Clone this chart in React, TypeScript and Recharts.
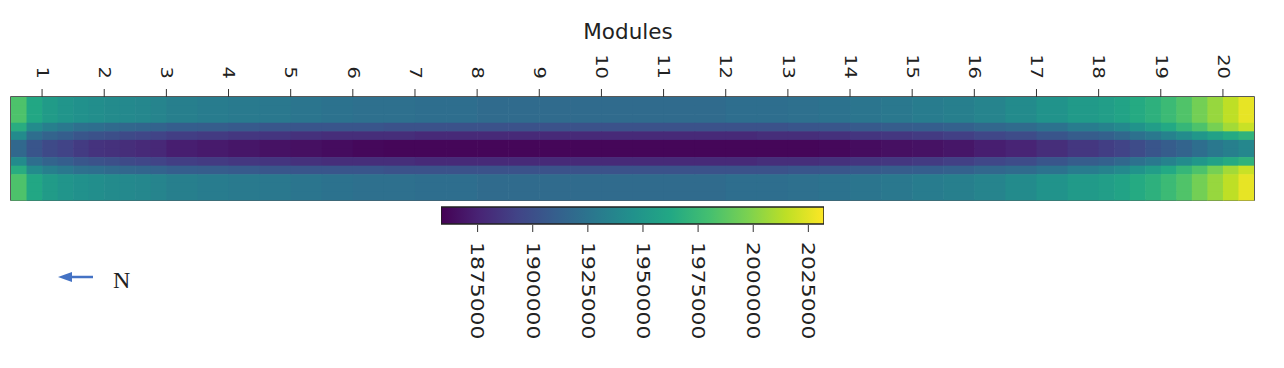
import React from 'react';
import { ScatterChart, Scatter, ComposedChart, Bar, XAxis, YAxis, ReferenceArea } from 'recharts';

// module ticks along the top
const MODULES = [1, 2, 3, 4, 5, 6, 7, 8, 9, 10, 11, 12, 13, 14, 15, 16, 17, 18, 19, 20];

// grid column edges: quarter modules at both ends, half modules in between
const COL_EDGES = [
  0.5, 0.75, 1, 1.25, 1.5, 1.75, 2, 2.25, 2.5, 2.75,
  3, 3.5, 4, 4.5, 5, 5.5, 6, 6.5, 7, 7.5, 8, 8.5, 9, 9.5, 10, 10.5, 11, 11.5, 12, 12.5,
  13, 13.5, 14, 14.5, 15, 15.5, 16, 16.5, 17, 17.5,
  18, 18.25, 18.5, 18.75, 19, 19.25, 19.5, 19.75, 20, 20.25, 20.5,
];

// values per row band, read left -> right (50 columns)
const OUTER = [
  1983000, 1962000, 1953000, 1948000, 1945000, 1943000, 1941000, 1940000, 1938000, 1936000,
  1933000, 1931000, 1929000, 1928000, 1926000, 1924000, 1922000, 1922000, 1921000, 1921000,
  1919000, 1919000, 1919000, 1919000, 1919000, 1919000, 1919000, 1919000, 1921000, 1921000,
  1922000, 1924000, 1926000, 1928000, 1931000, 1933000, 1936000, 1941000, 1947000, 1952000,
  1955000, 1959000, 1964000, 1969000, 1976000, 1984000, 1995000, 2005000, 2015000, 2026000,
];
const MID = [
  1966000, 1941000, 1933000, 1928000, 1922000, 1921000, 1918000, 1916000, 1915000, 1913000,
  1910000, 1909000, 1907000, 1905000, 1904000, 1904000, 1904000, 1902000, 1902000, 1902000,
  1902000, 1902000, 1902000, 1902000, 1902000, 1902000, 1902000, 1902000, 1902000, 1902000,
  1904000, 1905000, 1907000, 1909000, 1910000, 1912000, 1916000, 1919000, 1924000, 1931000,
  1935000, 1940000, 1947000, 1954000, 1963000, 1973000, 1983000, 1996000, 2008000, 2018000,
];
const INNER = [
  1941000, 1921000, 1914000, 1910000, 1905000, 1902000, 1900000, 1897000, 1895000, 1893000,
  1890000, 1888000, 1886000, 1885000, 1883000, 1881000, 1881000, 1881000, 1879000, 1879000,
  1879000, 1879000, 1879000, 1879000, 1879000, 1879000, 1879000, 1879000, 1879000, 1881000,
  1881000, 1883000, 1885000, 1886000, 1888000, 1891000, 1895000, 1898000, 1904000, 1909000,
  1912000, 1917000, 1923000, 1928000, 1935000, 1942000, 1950000, 1957000, 1964000, 1970000,
];
const CORE = [
  1917000, 1904000, 1897000, 1893000, 1888000, 1884000, 1883000, 1881000, 1879000, 1878000,
  1873000, 1871000, 1869000, 1867000, 1866000, 1864000, 1862000, 1861000, 1861000, 1861000,
  1861000, 1861000, 1861000, 1861000, 1861000, 1861000, 1861000, 1861000, 1861000, 1861000,
  1861000, 1862000, 1864000, 1866000, 1867000, 1869000, 1873000, 1876000, 1881000, 1886000,
  1890000, 1893000, 1898000, 1904000, 1909000, 1914000, 1921000, 1928000, 1933000, 1938000,
];

// top -> bottom
const ROWS = [OUTER, OUTER, OUTER, MID, INNER, CORE, CORE, INNER, MID, OUTER, OUTER, OUTER];

// colorbar
const CB_TICKS = [1875000, 1900000, 1925000, 1950000, 1975000, 2000000, 2025000];
const CB_MIN = 1858400;
const CB_MAX = 2032100;

const VIRIDIS = ['#440154', '#482475', '#414487', '#355f8d', '#2a788e', '#21918c', '#22a884', '#44bf70', '#7ad151', '#bddf26', '#fde725'];

const W = 1284;
const H = 368;
const PLOT = { left: 11, right: 1254, top: 97, bottom: 200 };
const PX_PER_MODULE = (PLOT.right - PLOT.left) / MODULES.length;
const CELL_H = (PLOT.bottom - PLOT.top) / ROWS.length;

const hex = (c: string) => [1, 3, 5].map(i => parseInt(c.slice(i, i + 2), 16));

const viridis = (v: number) => {
  const t = Math.min(1, Math.max(0, (v - CB_MIN) / (CB_MAX - CB_MIN))) * 10;
  const i = Math.min(9, Math.floor(t));
  const f = t - i;
  const a = hex(VIRIDIS[i]);
  const b = hex(VIRIDIS[i + 1]);
  const c = a.map((x, k) => Math.round(x + (b[k] - x) * f));
  return `rgb(${c[0]},${c[1]},${c[2]})`;
};

const cells = ROWS.flatMap((row, r) =>
  row.map((v, c) => ({
    x: (COL_EDGES[c] + COL_EDGES[c + 1]) / 2,
    span: COL_EDGES[c + 1] - COL_EDGES[c],
    y: r + 0.5,
    v,
  }))
);

const CellShape = (props: any) => {
  const { cx, cy, payload } = props;
  const w = payload.span * PX_PER_MODULE;
  return <rect x={cx - w / 2} y={cy - CELL_H / 2} width={w + 0.6} height={CELL_H + 0.6} fill={viridis(payload.v)} />;
};

const FONT = '"DejaVu Sans", sans-serif';

const ModuleTick = (props: any) => {
  const { x, y, payload } = props;
  return (
    <text
      transform={`translate(${x},${y - 8}) rotate(90) scale(1.3,1)`}
      textAnchor="end"
      dy="0.35em"
      fontFamily={FONT}
      fontSize={15}
      fill="#222"
    >
      {payload.value}
    </text>
  );
};

const ColorbarTick = (props: any) => {
  const { x, y, payload } = props;
  return (
    <text
      transform={`translate(${x},${y + 8}) rotate(90) scale(1.25,1)`}
      textAnchor="start"
      dy="0.35em"
      fontFamily={FONT}
      fontSize={17.5}
      fill="#222"
    >
      {payload.value}
    </text>
  );
};

const layer: React.CSSProperties = { position: 'absolute', left: 0, top: 0 };

const colorbarData = [{ name: 'colorbar', range: [CB_MIN, CB_MAX] }];

export default function App() {
  return (
    <div style={{ position: 'absolute', left: 0, top: 0, width: W, height: H, background: '#fff' }}>
      <div style={layer}>
        <ScatterChart
          width={W}
          height={H}
          margin={{ top: PLOT.top - 40, left: PLOT.left, right: W - PLOT.right, bottom: H - PLOT.bottom }}
        >
          <XAxis
            type="number"
            dataKey="x"
            orientation="top"
            domain={[0.5, 20.5]}
            ticks={MODULES}
            interval={0}
            height={40}
            tickSize={8}
            axisLine={false}
            tickLine={{ stroke: '#333' }}
            tick={<ModuleTick />}
            allowDataOverflow
          />
          <YAxis type="number" dataKey="y" domain={[0, ROWS.length]} reversed hide />
          <Scatter data={cells} shape={<CellShape />} isAnimationActive={false} />
          <ReferenceArea
            x1={0.5}
            x2={20.5}
            y1={0}
            y2={ROWS.length}
            fill="none"
            stroke="#222"
            strokeWidth={1.5}
            ifOverflow="visible"
          />
        </ScatterChart>
      </div>
      <div style={layer}>
        <ComposedChart
          width={W}
          height={H}
          layout="vertical"
          data={colorbarData}
          barCategoryGap={0}
          margin={{ top: 206, left: 441, right: W - 824, bottom: H - 225 - 130 }}
        >
          <defs>
            <linearGradient id="viridisBar" x1="0" y1="0" x2="1" y2="0">
              {VIRIDIS.map((c, i) => (
                <stop key={c} offset={`${i * 10}%`} stopColor={c} />
              ))}
            </linearGradient>
          </defs>
          <XAxis
            type="number"
            domain={[CB_MIN, CB_MAX]}
            ticks={CB_TICKS}
            interval={0}
            height={130}
            tickSize={7}
            axisLine={false}
            tickLine={{ stroke: '#333' }}
            tick={<ColorbarTick />}
            allowDataOverflow
          />
          <YAxis type="category" dataKey="name" hide />
          <Bar dataKey="range" barSize={19} fill="url(#viridisBar)" stroke="#222" strokeWidth={1.5} isAnimationActive={false} />
        </ComposedChart>
      </div>
      <svg width={W} height={H} style={{ ...layer, pointerEvents: 'none' }}>
        <text x={628} y={39} textAnchor="middle" fontFamily={FONT} fontSize={21.5} fill="#222">
          Modules
        </text>
        <line x1={93} y1={277} x2={68} y2={277} stroke="#4472c4" strokeWidth={2.5} />
        <polygon points="58,277 72,272 72,282" fill="#4472c4" />
        <text x={113} y={288} fontFamily='"Liberation Serif", serif' fontSize={24} fill="#222">
          N
        </text>
      </svg>
    </div>
  );
}
